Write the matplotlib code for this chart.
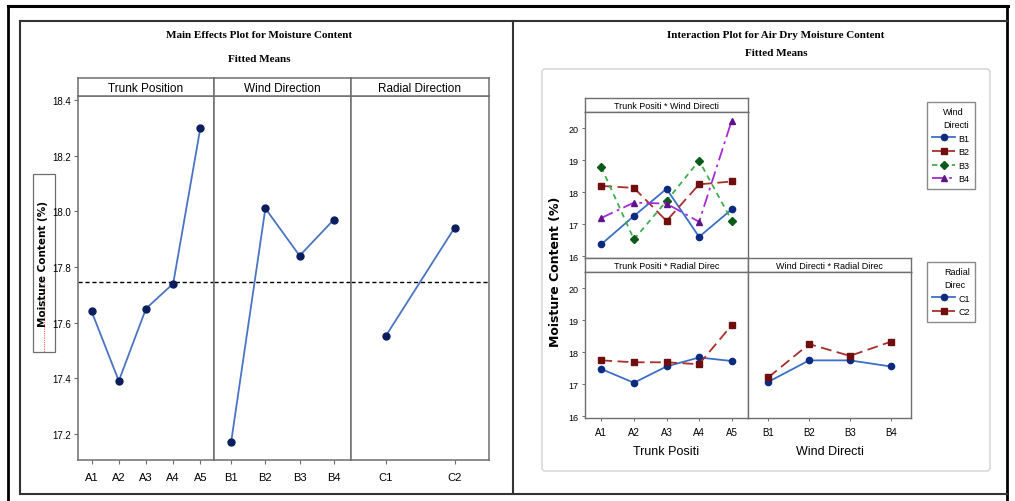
import matplotlib
matplotlib.use('Agg')
import matplotlib.pyplot as plt
from matplotlib.patches import Rectangle, FancyBboxPatch

# main effects (fitted means)
trunk = ['A1', 'A2', 'A3', 'A4', 'A5']
trunk_means = [17.64, 17.39, 17.65, 17.74, 18.30]
wind = ['B1', 'B2', 'B3', 'B4']
wind_means = [17.17, 18.01, 17.84, 17.97]
radial = ['C1', 'C2']
radial_means = [17.55, 17.94]
grand_mean = 17.745
me_ticks = [17.2, 17.4, 17.6, 17.8, 18.0, 18.2, 18.4]

# interaction means
tw_B1 = [16.37, 17.25, 18.10, 16.60, 17.46]
tw_B2 = [18.19, 18.13, 17.10, 18.24, 18.33]
tw_B3 = [18.78, 16.52, 17.72, 18.98, 17.11]
tw_B4 = [17.19, 17.67, 17.64, 17.07, 20.23]
tr_C1 = [17.47, 17.04, 17.55, 17.83, 17.72]
tr_C2 = [17.74, 17.68, 17.68, 17.62, 18.84]
wr_C1 = [17.07, 17.74, 17.74, 17.55]
wr_C2 = [17.21, 18.25, 17.88, 18.32]
int_ticks = [16, 17, 18, 19, 20]

W, H = 1015, 502
NARROW = ['Liberation Sans', 'DejaVu Sans']
SERIF = ['Liberation Serif', 'DejaVu Serif']
GRAY = '#6e6e6e'

fig = plt.figure(figsize=(W / 100, H / 100), dpi=100)


def box(x0, y0, x1, y1, **kw):
    return fig.add_axes([x0 / W, 1 - y1 / H, (x1 - x0) / W, (y1 - y0) / H], **kw)


# page frame (pixel coords)
bg = box(0, 0, W, H, zorder=-5)
bg.set_xlim(0, W)
bg.set_ylim(H, 0)
bg.axis('off')
bg.plot([8, 1008], [7, 7], color='black', lw=2.2)
bg.plot([8, 8], [7, 502], color='black', lw=2)
bg.plot([1007, 1007], [7, 502], color='black', lw=2)
bg.plot([20, 1007], [22, 22], color='#333333', lw=1.5)
bg.plot([20, 20], [22, 495], color='#333333', lw=1.5)
bg.plot([20, 1007], [495, 495], color='#333333', lw=1.5)
bg.plot([513, 513], [22, 495], color='#333333', lw=1.5)
bg.add_patch(FancyBboxPatch((542, 70), 448, 402, boxstyle='round,pad=0,rounding_size=3',
                            fc='none', ec='#d9d9d9', lw=1.2))
# y label box on left panel
bg.add_patch(Rectangle((33, 175), 22, 178, fc='white', ec=GRAY, lw=0.9))
bg.plot([44, 44], [278, 353], color='#ff5a5a', lw=0.8, ls=(0, (1, 1)))
bg.text(43, 264, 'Moisture Content (%)', rotation=90, ha='center', va='center',
        fontsize=7.5, fontweight='bold', family='DejaVu Sans')

# ---------------- left: main effects ----------------
fig.text(259 / W, 1 - 36 / H, 'Main Effects Plot for Moisture Content', ha='center', va='center',
         fontsize=8, fontweight='bold', family=SERIF)
fig.text(259 / W, 1 - 59 / H, 'Fitted Means', ha='center', va='center',
         fontsize=8, fontweight='bold', family=SERIF)

panels = [(78, 214, trunk, trunk_means, 'Trunk Position'),
          (214, 351, wind, wind_means, 'Wind Direction'),
          (351, 489, radial, radial_means, 'Radial Direction')]
for i, (x0, x1, cats, vals, name) in enumerate(panels):
    ax = box(x0, 97, x1, 461)
    xs = list(range(len(cats)))
    ax.plot(xs, vals, color='#4a74c4', lw=1.3, marker='o', ms=5,
            mfc='#0c1d5c', mec='#0c1d5c', zorder=3)
    ax.axhline(grand_mean, color='black', lw=1, ls=(0, (3, 2)))
    ax.set_xlim(-0.5, len(cats) - 0.5)
    ax.set_ylim(17.106, 18.414)
    ax.set_xticks(xs)
    ax.set_xticklabels(cats, fontsize=8, family=NARROW)
    ax.set_yticks(me_ticks)
    if i == 0:
        ax.set_yticklabels([f'{t:.1f}' for t in me_ticks], fontsize=7, family=NARROW)
    else:
        ax.tick_params(axis='y', left=False, labelleft=False)
    ax.tick_params(length=3, width=0.8, color=GRAY)
    ax.tick_params(axis='x', pad=6)
    ax.tick_params(axis='y', pad=2)
    for s in ax.spines.values():
        s.set_color(GRAY)
        s.set_linewidth(1.1)
    st = box(x0, 79, x1, 97)
    st.set_xticks([])
    st.set_yticks([])
    for s in st.spines.values():
        s.set_color(GRAY)
        s.set_linewidth(1.1)
    st.text(0.5, 0.45, name, ha='center', va='center', fontsize=8.5, family=NARROW,
            transform=st.transAxes)

# ---------------- right: interaction plot ----------------
fig.text(776 / W, 1 - 36 / H, 'Interaction Plot for Air Dry Moisture Content', ha='center',
         va='center', fontsize=8, fontweight='bold', family=SERIF)
fig.text(776 / W, 1 - 53 / H, 'Fitted Means', ha='center', va='center',
         fontsize=8, fontweight='bold', family=SERIF)

styles_wind = [('#3b6fc6', '#0b2a80', 'o', '-'),
               ('#a8302c', '#6e0e0e', 's', (0, (6, 3))),
               ('#3fae4d', '#0b5a1a', 'D', (0, (3, 2.5))),
               ('#a52bd6', '#5e138a', '^', (0, (7, 2.5, 1.5, 2.5)))]
styles_rad = styles_wind[:2]


def make_panel(x0, x1, ytop, ybot, title, ncat):
    st = box(x0, ytop, x1, ytop + 14)
    st.set_xticks([])
    st.set_yticks([])
    for s in st.spines.values():
        s.set_color(GRAY)
        s.set_linewidth(1)
    st.text(0.5, 0.45, title, ha='center', va='center', fontsize=6.5, family=NARROW,
            transform=st.transAxes)
    ax = box(x0, ytop + 14, x1, ybot)
    ax.set_xlim(-0.5, ncat - 0.5)
    ax.set_ylim(15.94, 20.5)
    ax.set_yticks(int_ticks)
    ax.set_xticks(range(ncat))
    ax.tick_params(length=2.5, width=0.7, color=GRAY, labelsize=6.5, pad=2)
    for s in ax.spines.values():
        s.set_color(GRAY)
        s.set_linewidth(1)
    return ax


ax_tw = make_panel(585, 748, 99, 259, 'Trunk Positi * Wind Directi', 5)
wind_lines = []
for vals, (lc, mc, mk, ls), lab in zip([tw_B1, tw_B2, tw_B3, tw_B4], styles_wind, wind):
    ln, = ax_tw.plot(range(5), vals, color=lc, ls=ls, lw=1.3, marker=mk,
                     ms=4.5 if mk != 'D' else 4, mfc=mc, mec=mc, label=lab)
    wind_lines.append(ln)
ax_tw.set_yticklabels([str(t) for t in int_ticks], family=NARROW)
ax_tw.tick_params(axis='x', labelbottom=False)

ax_tr = make_panel(585, 748, 259, 419, 'Trunk Positi * Radial Direc', 5)
rad_lines = []
for vals, (lc, mc, mk, ls), lab in zip([tr_C1, tr_C2], styles_rad, radial):
    ln, = ax_tr.plot(range(5), vals, color=lc, ls=ls, lw=1.3, marker=mk, ms=4.5,
                     mfc=mc, mec=mc, label=lab)
    rad_lines.append(ln)
ax_tr.set_yticklabels([str(t) for t in int_ticks], family=NARROW)
ax_tr.set_xticklabels(trunk, family=NARROW, fontsize=7)
ax_tr.tick_params(axis='x', pad=4)
ax_tr.set_xlabel('Trunk Positi', fontsize=9, family=NARROW, labelpad=6)

ax_wr = make_panel(748, 911, 259, 419, 'Wind Directi * Radial Direc', 4)
for vals, (lc, mc, mk, ls) in zip([wr_C1, wr_C2], styles_rad):
    ax_wr.plot(range(4), vals, color=lc, ls=ls, lw=1.3, marker=mk, ms=4.5, mfc=mc, mec=mc)
ax_wr.tick_params(axis='y', left=False, labelleft=False)
ax_wr.set_xticklabels(wind, family=NARROW, fontsize=7)
ax_wr.tick_params(axis='x', pad=4)
ax_wr.set_xlabel('Wind Directi', fontsize=9, family=NARROW, labelpad=6)

fig.text(556 / W, 1 - 272 / H, 'Moisture Content (%)', rotation=90, ha='center', va='center',
         fontsize=9, fontweight='bold', family='DejaVu Sans')

leg_kw = dict(loc='upper left', frameon=True, fancybox=False, edgecolor=GRAY,
              prop={'family': NARROW, 'size': 6.5}, handlelength=2.6, handletextpad=0.3,
              labelspacing=0.5, borderpad=0.6, alignment='right')
lg1 = fig.legend(wind_lines, wind, title='Wind\nDirecti', bbox_to_anchor=(922 / W, 1 - 98 / H),
                 **leg_kw)
lg2 = fig.legend(rad_lines, radial, title='Radial\nDirec', bbox_to_anchor=(922 / W, 1 - 258 / H),
                 **leg_kw)
for lg in (lg1, lg2):
    lg.get_title().set_fontsize(6.5)
    lg.get_title().set_family(NARROW)
    lg.get_title().set_linespacing(1.6)
    lg.get_frame().set_linewidth(1)

fig.savefig('out.png', dpi=100)
